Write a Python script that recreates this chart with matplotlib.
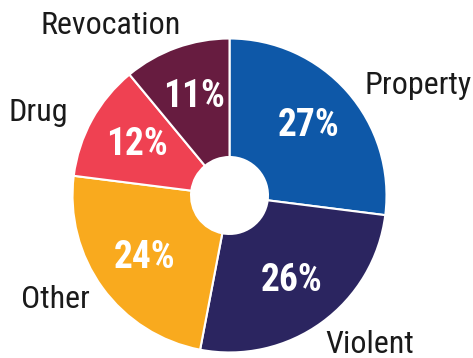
import matplotlib
matplotlib.use("Agg")
import matplotlib.pyplot as plt

categories = ["Property", "Violent", "Other", "Drug", "Revocation"]
values = [27, 26, 24, 12, 11]
colors = ["#0e58a8", "#2b2560", "#f9aa1e", "#ef4152", "#671c40"]
label_pos = [(1.20, 0.70), (0.895, -0.95), (-1.11, -0.665), (-1.215, 0.53), (-0.76, 1.085)]

FONT = ["Roboto Condensed", "Liberation Sans Narrow", "Roboto", "DejaVu Sans"]

fig = plt.figure(figsize=(4.73, 3.58), dpi=100)
ax = fig.add_axes([0, 0, 1, 1])
wedges, texts, autotexts = ax.pie(
    values, colors=colors, startangle=90, counterclock=False,
    autopct=lambda p: f"{p:.0f}%", pctdistance=0.67, radius=1,
    wedgeprops=dict(width=1 - 0.245, edgecolor="white", linewidth=1.5),
    textprops=dict(color="white", fontsize=27, fontweight="bold", family=FONT),
)
for (x, y), name in zip(label_pos, categories):
    ax.text(x, y, name, ha="center", va="center", fontsize=23, color="#1a1a1a", family=FONT)

ax.set_xlim(-1.462, 1.551)
ax.set_ylim(-1.035, 1.245)
ax.set_aspect("equal")
ax.axis("off")
fig.savefig("out.png", dpi=100)
